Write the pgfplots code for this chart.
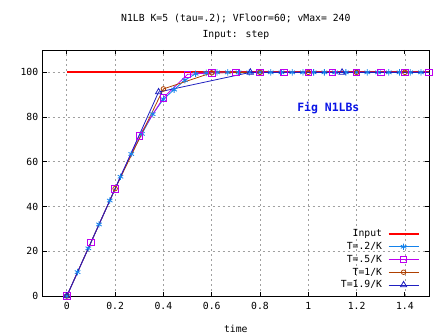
\documentclass[border=0pt]{standalone}
\usepackage{pgfplots}
\pgfplotsset{compat=1.18}
\usepackage{fontspec}
\setmainfont{DejaVu Sans Mono}
\definecolor{cin}{RGB}{255,0,0}
\definecolor{cstar}{RGB}{20,130,235}
\definecolor{csq}{RGB}{190,0,240}
\definecolor{cci}{RGB}{175,64,0}
\definecolor{ctri}{RGB}{32,32,192}
\definecolor{cfig}{RGB}{10,20,230}
\definecolor{cgrid}{RGB}{160,160,160}
\begin{document}
\begin{tikzpicture}
\path[use as bounding box] (-42.7bp,-39bp) rectangle (404.3bp,296bp);
\begin{axis}[
  at={(0,0)}, anchor=south west,
  scale only axis, width=386.3bp, height=246bp,
  xmin=-0.1, xmax=1.5, ymin=0, ymax=110,
  xtick={0,0.2,...,1.4}, ytick={0,20,...,100},
  xticklabels={0,0.2,0.4,0.6,0.8,1,1.2,1.4},
  tick align=inside, major tick length=4bp,
  tick style={black, line width=0.8bp},
  axis line style={black, line width=0.8bp},
  grid=major,
  grid style={cgrid, line width=0.7bp, dash pattern=on 2bp off 3bp},
  /pgf/number format/assume math mode=true,
  tick label style={font=\fontsize{9.8}{11}\selectfont},
  xticklabel style={yshift=-3bp},
  yticklabel style={xshift=-1bp},
  xlabel={time}, xlabel style={font=\fontsize{9.8}{11}\selectfont, yshift=-8bp},
  title={N1LB K=5 (tau=.2); VFloor=60; vMax= 240\\Input: step},
  title style={font=\fontsize{9.8}{16}\selectfont, align=center, yshift=1bp},
  clip=false,
  legend plot pos=right,
  legend cell align=right,
  legend style={draw=none, fill=none, at={(axis cs:1.4618,2.2)}, anchor=south east,
    font=\fontsize{9.8}{11}\selectfont, row sep=1.1bp, inner sep=0pt,
    nodes={inner sep=1.5bp},
    /tikz/every odd column/.append style={column sep=4bp}},
  legend image code/.code={\draw[#1, mark=none] (0bp,0bp) -- (30bp,0bp); \draw[#1, only marks, mark indices={}] plot coordinates {(15bp,0bp)};},
]
\addplot[cin, line width=2bp, no marks] coordinates {(0,100) (1.5,100)};
\addlegendentry{Input}
\addplot[cstar, line width=0.8bp, mark=asterisk, mark size=3.2bp, mark options={line width=0.8bp}, mark indices={1,...,34}] coordinates {
(0,0) (0.0444,10.67) (0.0889,21.33) (0.1333,32) (0.1778,42.67) (0.2222,53.33) (0.2667,63.5)
(0.3111,72.5) (0.3556,81.3) (0.4,88) (0.4444,92.3) (0.4889,96.5) (0.5333,99.4) (0.5778,99.8)
(0.6222,100) (0.6667,100) (0.7111,100) (0.7556,100) (0.8,100) (0.8444,100) (0.8889,100)
(0.9333,100) (0.9778,100) (1.0222,100) (1.0667,100) (1.1111,100) (1.1556,100) (1.2,100)
(1.2444,100) (1.2889,100) (1.3333,100) (1.3778,100) (1.4222,100) (1.4667,100) (1.5,100)};
\addlegendentry{T=.2/K}
\addplot[csq, line width=0.8bp, mark=square, mark size=3.3bp, mark options={line width=0.8bp}] coordinates {
(0,0) (0.1,24) (0.2,48) (0.3,71.7) (0.4,88.7) (0.5,99.1) (0.6,99.8) (0.7,100) (0.8,100)
(0.9,100) (1.0,100) (1.1,100) (1.2,100) (1.3,100) (1.4,100) (1.5,100)};
\addlegendentry{T=.5/K}
\addplot[cci, line width=0.8bp, mark=o, mark size=2.3bp, mark options={line width=0.8bp}, mark indices={1,...,8}] coordinates {
(0,0) (0.2,48) (0.4,92.6) (0.6,99.8) (0.8,100) (1.0,100) (1.2,100) (1.4,100) (1.5,100)};
\addlegendentry{T=1/K}
\addplot[ctri, line width=0.8bp, mark=triangle, mark size=3.6bp, mark options={line width=0.8bp}, mark indices={1,...,4}] coordinates {
(0,0) (0.38,91.2) (0.76,100) (1.14,100) (1.5,100)};
\addlegendentry{T=1.9/K}
\node[text=cfig, font=\bfseries\fontsize{11.5}{13}\selectfont] at (axis cs:1.083,84.2) {Fig N1LBs};
\end{axis}
\end{tikzpicture}
\end{document}
